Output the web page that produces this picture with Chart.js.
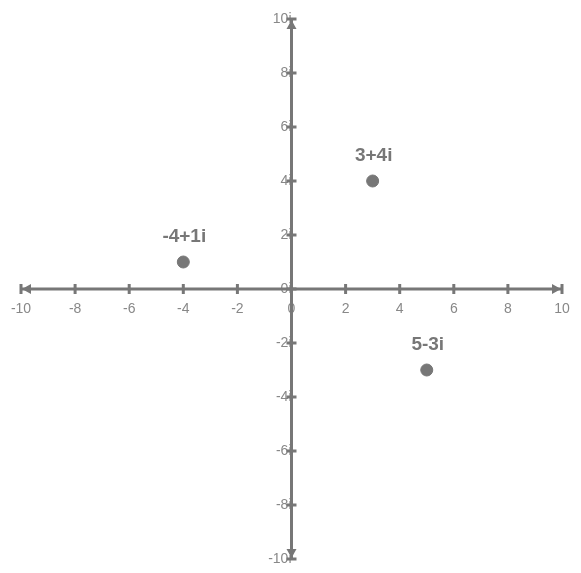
<!DOCTYPE html><html><head><script src="https://cdn.jsdelivr.net/npm/chart.js@4"></script>
<style>body{margin:0;background:#fff}#w{width:581px;height:573px}</style></head><body><div id="w"><canvas id="c"></canvas></div>
<script>
const pointLabels=["3+4i","-4+1i","5-3i"];
const reals=[3,-4,5];
const imags=[4,1,-3];
const xTicks=[-10,-8,-6,-4,-2,0,2,4,6,8,10];
const yTicks=[-10,-8,-6,-4,-2,0,2,4,6,8,10];
const gray='#777';
const axisPlugin={id:'ax',beforeDatasetsDraw(ch){
 const c=ch.ctx,x=ch.scales.x,y=ch.scales.y;
 const x0=x.getPixelForValue(0),y0=y.getPixelForValue(0);
 c.save();c.strokeStyle=gray;c.fillStyle=gray;c.lineWidth=3;
 c.beginPath();c.moveTo(x.left,y0);c.lineTo(x.right,y0);c.moveTo(x0,y.top);c.lineTo(x0,y.bottom);c.stroke();
 c.lineWidth=3;
 xTicks.forEach(v=>{const p=x.getPixelForValue(v);c.beginPath();c.moveTo(p,y0-5);c.lineTo(p,y0+5);c.stroke();});
 yTicks.forEach(v=>{const p=y.getPixelForValue(v);c.beginPath();c.moveTo(x0-5,p);c.lineTo(x0+5,p);c.stroke();});
 // arrows
 const xr=x.right,xl=x.left,yt=y.top,yb=y.bottom;
 c.beginPath();c.moveTo(xr-1,y0);c.lineTo(xr-10,y0-5);c.lineTo(xr-10,y0+5);c.fill();
 c.beginPath();c.moveTo(xl+1,y0);c.lineTo(xl+10,y0-5);c.lineTo(xl+10,y0+5);c.fill();
 c.beginPath();c.moveTo(x0,yt+1);c.lineTo(x0-5,yt+10);c.lineTo(x0+5,yt+10);c.fill();
 c.beginPath();c.moveTo(x0,yb-1);c.lineTo(x0-5,yb-10);c.lineTo(x0+5,yb-10);c.fill();
 c.restore();
},afterDatasetsDraw(ch){
 const c=ch.ctx,m=ch.getDatasetMeta(0);
 c.save();c.fillStyle=gray;c.font='bold 19px Arial, "Liberation Sans"';c.textAlign='center';c.textBaseline='bottom';
 m.data.forEach((e,i)=>c.fillText(pointLabels[i],e.x+1,e.y-16));c.restore();
}};
new Chart(document.getElementById('c'),{type:'scatter',
 data:{datasets:[{data:reals.map((r,i)=>({x:r,y:imags[i]})),backgroundColor:gray,borderColor:gray,pointRadius:6,pointHoverRadius:6}]},
 options:{responsive:true,maintainAspectRatio:false,animation:false,
  layout:{padding:{left:21,right:19,top:19,bottom:14}},
  plugins:{legend:{display:false},tooltip:{enabled:false}},
  scales:{
   x:{type:'linear',min:-10,max:10,position:{y:0},grid:{display:false},border:{display:false},
      ticks:{stepSize:2,color:'#888',font:{size:14,family:'Arial, "Liberation Sans"'},padding:4,maxRotation:0}},
   y:{type:'linear',min:-10,max:10,position:{x:0},grid:{display:false},border:{display:false},
      ticks:{stepSize:2,color:'#888',font:{size:14,family:'Arial, "Liberation Sans"'},padding:2,callback:v=>v+'i'}}
  }},plugins:[axisPlugin]});
</script></body></html>
